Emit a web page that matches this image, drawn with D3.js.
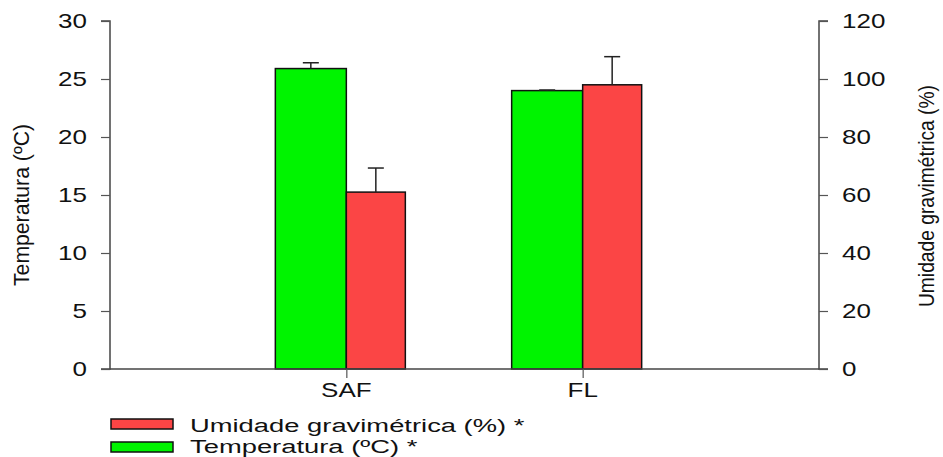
<!DOCTYPE html>
<html><head><meta charset="utf-8">
<script src="https://cdn.jsdelivr.net/npm/d3@7"></script>
<style>body{margin:0;background:#fff}svg{display:block}text{font-family:"Liberation Sans",Arial,sans-serif;fill:#111}</style>
</head><body><svg id="c" width="943" height="457"></svg>
<script>
const categories = ["SAF", "FL"];
const tempValues = [25.9, 24.0];
const tempErrors = [0.5, 0.05];
const umidValues = [61.0, 98.0];
const umidErrors = [8.3, 9.7];
const leftTicks = [0, 5, 10, 15, 20, 25, 30];
const rightTicks = [0, 20, 40, 60, 80, 100, 120];
const legendLabels = ["Umidade gravimétrica (%) *", "Temperatura (ºC) *"];
const leftTitle = "Temperatura (ºC)";
const rightTitle = "Umidade gravimétrica (%)";

const svg = d3.select("#c");
const L = 110, R = 819, T = 21, B = 369;
const SX = 1.36;
const green = "#00f400", red = "#fb4545";
const x = d3.scalePoint().domain(categories).range([L, R]).padding(1);
const yL = d3.scaleLinear().domain([0, 30]).range([B, T]);
const yR = d3.scaleLinear().domain([0, 120]).range([B, T]);
const gW = 71, rW = 59;

function stext(g, tx, ty, str, anchor, size, sx) {
  return g.append("text").attr("transform", `translate(${tx},${ty}) scale(${sx || SX},1)`)
    .attr("text-anchor", anchor).attr("font-size", size).text(str);
}

// bars
categories.forEach((c, i) => {
  const cx = x(c);
  svg.append("rect").attr("x", cx - gW).attr("y", yL(tempValues[i])).attr("width", gW)
    .attr("height", yL(0) - yL(tempValues[i])).attr("fill", green).attr("stroke", "#111").attr("stroke-width", 1.5);
  svg.append("rect").attr("x", cx).attr("y", yR(umidValues[i])).attr("width", rW)
    .attr("height", yR(0) - yR(umidValues[i])).attr("fill", red).attr("stroke", "#111").attr("stroke-width", 1.5);
  const ex1 = cx - gW / 2, ex2 = cx + rW / 2;
  const e = [[ex1, yL(tempValues[i]), yL(tempValues[i] + tempErrors[i])], [ex2, yR(umidValues[i]), yR(umidValues[i] + umidErrors[i])]];
  e.forEach(([ex, y0, y1]) => {
    svg.append("line").attr("x1", ex).attr("x2", ex).attr("y1", y0).attr("y2", y1).attr("stroke", "#222").attr("stroke-width", 1.5);
    svg.append("line").attr("x1", ex - 8).attr("x2", ex + 8).attr("y1", y1).attr("y2", y1).attr("stroke", "#222").attr("stroke-width", 1.5);
  });
});

// axes
const axL = svg.append("g").attr("transform", `translate(${L},0)`)
  .call(d3.axisLeft(yL).tickValues(leftTicks).tickSize(9).tickFormat(() => ""));
const axR = svg.append("g").attr("transform", `translate(${R},0)`)
  .call(d3.axisRight(yR).tickValues(rightTicks).tickSize(9).tickFormat(() => ""));
const axB = svg.append("g").attr("transform", `translate(0,${B})`)
  .call(d3.axisBottom(x).tickSize(9).tickFormat(() => ""));
[axL, axR, axB].forEach(a => {
  a.select(".domain").attr("stroke", "#444").attr("stroke-width", 1.5);
  a.selectAll(".tick line").attr("stroke", "#555").attr("stroke-width", 1.2);
});
axB.select(".domain").attr("d", `M${L},0H${R}`);
axL.select(".domain").attr("d", `M-9,${T}H0V${B}H-9`);
axR.select(".domain").attr("d", `M9,${T}H0V${B}H9`);

leftTicks.forEach(v => stext(svg, 87, yL(v) + 7, String(v), "end", 20, 1.3));
rightTicks.forEach(v => stext(svg, 842, yR(v) + 7, String(v), "start", 20, 1.3));
categories.forEach(c => stext(svg, x(c), 397, c, "middle", 20, 1.3));

// axis titles
svg.append("text").attr("transform", `translate(29,${(T + B) / 2 + 10}) rotate(-90)`)
  .attr("text-anchor", "middle").attr("font-size", 22).attr("textLength", 162)
  .attr("lengthAdjust", "spacingAndGlyphs").text(leftTitle);
svg.append("text").attr("transform", `translate(934,${(T + B) / 2 + 1}) rotate(-90)`)
  .attr("text-anchor", "middle").attr("font-size", 22).attr("textLength", 222)
  .attr("lengthAdjust", "spacingAndGlyphs").text(rightTitle);

// legend
const lg = [[red, 419, 432], [green, 442, 453]];
lg.forEach(([col, ly, by], i) => {
  svg.append("rect").attr("x", 111).attr("y", ly).attr("width", 62).attr("height", 10)
    .attr("fill", col).attr("stroke", "#111").attr("stroke-width", 1.5);
  stext(svg, 190, by, legendLabels[i], "start", 19, 1.44);
});
</script></body></html>
